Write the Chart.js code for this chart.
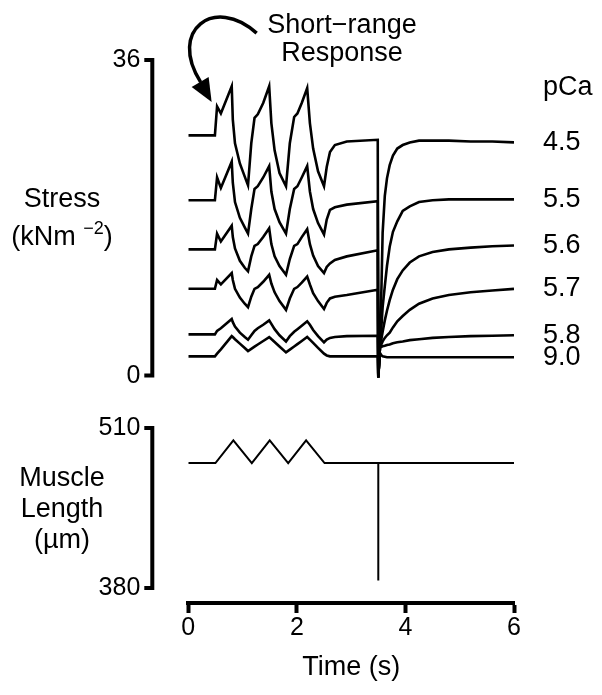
<!DOCTYPE html>
<html>
<head>
<meta charset="utf-8">
<script src="https://cdn.jsdelivr.net/npm/chart.js@4.4.1/dist/chart.umd.min.js"></script>
<style>
  body { margin: 0; background: #fff; }
  #wrap { position: relative; width: 602px; height: 695px; }
  canvas { position: absolute; left: 0; }
</style>
</head>
<body>
<div id="wrap">
  <canvas id="stress" width="602" height="400" style="top:0"></canvas>
  <canvas id="length" width="602" height="295" style="top:400px"></canvas>
</div>
<script>
var pCa = ['4.5', '5.5', '5.6', '5.7', '5.8', '9.0'];

// time (s) through the three stretch/release cycles, up to the step
var tCycle = [0, 0.49, 0.53, 0.6, 0.8, 0.82, 0.86, 0.95, 1.04, 1.1, 1.16, 1.22, 1.28, 1.38, 1.49,
    1.53, 1.59, 1.68, 1.8, 1.87, 1.95, 2.01, 2.09, 2.19, 2.24, 2.3, 2.39, 2.5, 2.55, 2.61, 2.7, 2.92, 3.49];
// time (s) from the release/restretch at 3.5 s onwards
var tRecover = [3.5, 3.53, 3.56, 3.58, 3.62, 3.66, 3.71, 3.77, 3.85, 3.95, 4.08, 4.25, 4.5, 4.8, 5.2, 5.6, 6.0];

// stress (kN m-2), one list per pCa, cycle part then recovery part
var s45 = [27.4, 27.4, 30.7, 29.9, 33.0, 29.2, 26.5, 24.2, 22.7, 21.7, 26.5, 29.4, 29.8, 31.1, 33.0,
    28.8, 25.7, 23.1, 21.6, 26.5, 29.5, 29.9, 31.1, 32.8, 28.8, 25.9, 23.3, 21.6, 23.8, 25.5, 26.3, 26.7, 26.9,
    -0.2, 3.2, 10.5, 16.3, 20.5, 22.5, 24.0, 25.1, 25.9, 26.3, 26.6, 26.8, 26.8, 26.8, 26.7, 26.7, 26.6];
var s55 = [20.0, 20.0, 22.6, 21.4, 24.4, 22.0, 19.8, 18.0, 16.9, 16.2, 19.0, 21.3, 21.6, 22.6, 23.9,
    21.0, 19.0, 17.5, 16.2, 19.0, 21.3, 21.6, 22.6, 23.9, 21.0, 19.0, 17.4, 16.1, 17.8, 18.9, 19.2, 19.5, 19.9,
    -0.2, 3.2, 5.8, 7.8, 10.2, 12.5, 14.7, 16.4, 17.6, 18.8, 19.3, 19.8, 20.0, 20.1, 20.1, 20.1, 20.1];
var s56 = [14.4, 14.4, 16.2, 15.3, 17.1, 15.8, 14.5, 13.1, 12.3, 11.9, 13.6, 14.8, 15.0, 15.8, 16.8,
    15.0, 13.6, 12.5, 11.5, 13.3, 14.8, 15.0, 15.8, 16.7, 15.0, 13.7, 12.5, 11.7, 12.4, 12.8, 13.2, 13.6, 14.3,
    -0.2, 3.2, 4.3, 5.0, 6.3, 7.4, 8.6, 9.8, 11.0, 12.0, 12.9, 13.6, 14.1, 14.4, 14.6, 14.75, 14.85];
var s57 = [9.9, 9.9, 10.9, 10.4, 11.7, 10.9, 9.9, 8.9, 8.2, 7.8, 9.0, 9.9, 10.1, 10.7, 11.5,
    10.5, 9.5, 8.5, 7.5, 8.8, 9.9, 10.1, 10.6, 11.3, 10.4, 9.4, 8.5, 7.6, 8.3, 8.8, 9.0, 9.2, 9.8,
    -0.2, 3.2, 3.6, 3.9, 4.3, 4.6, 4.9, 5.5, 6.2, 6.8, 7.5, 8.2, 8.8, 9.2, 9.5, 9.7, 9.9];
var s58 = [4.7, 4.7, 5.1, 5.4, 6.45, 6.1, 5.6, 4.9, 4.4, 4.1, 4.6, 5.1, 5.4, 5.8, 6.3,
    5.9, 5.3, 4.6, 3.9, 4.5, 5.0, 5.3, 5.7, 6.2, 5.8, 5.2, 4.5, 3.8, 4.1, 4.3, 4.4, 4.5, 4.55,
    -0.2, 3.2, 3.3, 3.35, 3.4, 3.5, 3.55, 3.7, 3.8, 3.9, 4.05, 4.15, 4.3, 4.4, 4.5, 4.55, 4.6];
var s90 = [2.2, 2.2, 2.5, 3.0, 4.5, 4.4, 4.15, 3.65, 3.15, 2.8, 3.05, 3.3, 3.55, 3.95, 4.4,
    4.17, 3.84, 3.33, 2.65, 2.96, 3.32, 3.59, 3.95, 4.4, 4.1, 3.73, 3.17, 2.5, 2.3, 2.2, 2.2, 2.2, 2.2,
    -0.2, 2.6, 2.3, 2.2, 2.15, 2.1, 2.1, 2.1, 2.1, 2.1, 2.1, 2.1, 2.1, 2.1, 2.1, 2.1, 2.1];

// muscle length (um)
var tLength = [0, 0.5, 0.83, 1.17, 1.5, 1.84, 2.17, 2.51, 3.5, 3.5, 3.5, 6];
var length = [481.5, 481.5, 500, 481.5, 500, 481.5, 500, 481.5, 481.5, 386, 481.5, 481.5];

var stressTicks = [0, 36];
var lengthTicks = [380, 510];
var timeTicks = [0, 2, 4, 6];

var FONT = '"Liberation Sans", Arial, sans-serif';
Chart.defaults.font.family = FONT;
Chart.defaults.color = '#000';

var stressSeries = [s45, s55, s56, s57, s58, s90];
var tAll = tCycle.concat(tRecover);
var axisGap = 36; // y axes sit this far left of the traces

function xy(ts, vs) {
    return ts.map(function (t, i) { return {x: t, y: vs[i]}; });
}
function setTicks(list) {
    return function (scale) {
        scale.ticks = list.map(function (v) { return {value: v}; });
    };
}

// Prism style y axis: bracket from first to last tick, off to the left
var yBracket = {
    id: 'yBracket',
    afterDraw: function (chart) {
        var ctx = chart.ctx, s = chart.scales.y;
        var x = chart.chartArea.left - axisGap;
        var px = s.ticks.map(function (t) { return s.getPixelForValue(t.value); });
        var top = Math.min.apply(null, px), bot = Math.max.apply(null, px);
        ctx.save();
        ctx.strokeStyle = '#000';
        ctx.lineWidth = 4;
        ctx.beginPath();
        ctx.moveTo(x, top - 2);
        ctx.lineTo(x, bot + 2);
        px.forEach(function (p) {
            ctx.moveTo(x + 2, p);
            ctx.lineTo(x - 8, p);
        });
        ctx.stroke();
        ctx.restore();
    }
};

// horizontal axis title, lines made of parts (for the superscript)
var sideTitle = {
    id: 'sideTitle',
    afterDraw: function (chart, args, o) {
        var ctx = chart.ctx, s = chart.scales.y;
        var mid = (s.getPixelForValue(s.ticks[0].value) + s.getPixelForValue(s.ticks[s.ticks.length - 1].value)) / 2;
        ctx.save();
        ctx.fillStyle = '#000';
        ctx.textAlign = 'left';
        ctx.textBaseline = 'alphabetic';
        o.lines.forEach(function (line) {
            var w = 0;
            line.parts.forEach(function (p) {
                ctx.font = (p.size || o.size) + 'px ' + FONT;
                w += ctx.measureText(p.text).width;
            });
            var x = o.x - w / 2;
            line.parts.forEach(function (p) {
                ctx.font = (p.size || o.size) + 'px ' + FONT;
                ctx.fillText(p.text, x, mid + line.dy - (p.rise || 0));
                x += ctx.measureText(p.text).width;
            });
        });
        ctx.restore();
    }
};

// "Short-range Response" note with its curved arrow
var callout = {
    id: 'callout',
    afterDraw: function (chart, args, o) {
        var ctx = chart.ctx;
        var tx = chart.scales.x.getPixelForValue(o.tip[0]);
        var ty = chart.scales.y.getPixelForValue(o.tip[1]);
        ctx.save();
        ctx.fillStyle = '#000';
        ctx.strokeStyle = '#000';
        ctx.font = o.size + 'px ' + FONT;
        ctx.textAlign = 'center';
        ctx.textBaseline = 'alphabetic';
        o.text.forEach(function (line, i) {
            ctx.fillText(line, o.x, o.y + i * o.lineGap);
        });
        ctx.lineWidth = 3.5;
        ctx.beginPath();
        ctx.moveTo(tx + 45, ty - 69);
        ctx.bezierCurveTo(tx + 3, ty - 107, tx - 44, ty - 72, tx - 11, ty - 20);
        ctx.stroke();
        ctx.beginPath();
        ctx.moveTo(tx, ty);
        ctx.lineTo(tx - 20, ty - 15);
        ctx.lineTo(tx - 3, ty - 25);
        ctx.closePath();
        ctx.fill();
        ctx.restore();
    }
};

window.addEventListener('load', function () {
    var rightTicks = [32.9].concat(stressSeries.map(function (s) { return s[s.length - 1]; }));
    var rightLabels = ['pCa'].concat(pCa);

    var stressChart = new Chart(document.getElementById('stress'), {
        type: 'line',
        data: {
            datasets: stressSeries.map(function (vals, i) {
                return {
                    label: 'pCa ' + pCa[i],
                    data: xy(tAll, vals),
                    borderColor: '#000',
                    borderWidth: 2.6,
                    pointRadius: 0,
                    tension: 0
                };
            })
        },
        options: {
            responsive: false,
            animation: false,
            events: [],
            layout: {padding: {top: 60, bottom: 20, left: 0, right: 0}},
            plugins: {
                legend: {display: false},
                tooltip: {enabled: false},
                sideTitle: {
                    x: 62, size: 27,
                    lines: [
                        {dy: -11, parts: [{text: 'Stress'}]},
                        {dy: 27, parts: [{text: '(kNm '}, {text: '\u22122', size: 18, rise: 11}, {text: ')'}]}
                    ]
                },
                callout: {
                    tip: [0.43, 31.2],
                    text: ['Short\u2212range', 'Response'],
                    x: 342, y: 33, lineGap: 28, size: 27
                }
            },
            scales: {
                x: {type: 'linear', min: 0, max: 6, display: false},
                y: {
                    min: -0.5, max: 36,
                    afterBuildTicks: setTicks(stressTicks),
                    afterFit: function (s) { s.width = 188.3; },
                    grid: {display: false, drawTicks: true, tickLength: 48},
                    border: {display: false},
                    ticks: {padding: 0, font: {size: 25}}
                },
                yR: {
                    position: 'right',
                    min: -0.5, max: 36,
                    afterBuildTicks: setTicks(rightTicks),
                    afterFit: function (s) { s.width = 88; },
                    grid: {display: false, drawTicks: true, tickLength: 29},
                    border: {display: false},
                    ticks: {
                        padding: 0, autoSkip: false, font: {size: 27},
                        callback: function (v, i) { return rightLabels[i]; }
                    }
                }
            }
        },
        plugins: [yBracket, sideTitle, callout]
    });

    var lengthChart = new Chart(document.getElementById('length'), {
        type: 'line',
        data: {
            datasets: [{
                label: 'Muscle length',
                data: xy(tLength, length),
                borderColor: '#000',
                borderWidth: 2,
                pointRadius: 0,
                tension: 0
            }]
        },
        options: {
            responsive: false,
            animation: false,
            events: [],
            layout: {padding: {top: 28, bottom: 0, left: 0, right: 88}},
            plugins: {
                legend: {display: false},
                tooltip: {enabled: false},
                sideTitle: {
                    x: 62, size: 27,
                    lines: [
                        {dy: -22, parts: [{text: 'Muscle'}]},
                        {dy: 9, parts: [{text: 'Length'}]},
                        {dy: 40, parts: [{text: '(\u00b5m)'}]}
                    ]
                }
            },
            scales: {
                x: {
                    type: 'linear', min: 0, max: 6,
                    afterBuildTicks: setTicks(timeTicks),
                    afterFit: function (s) { s.height = 92.5; },
                    grid: {drawOnChartArea: false, drawTicks: true, tickLength: 10.5, tickWidth: 4, tickColor: '#000'},
                    border: {display: true, width: 4, color: '#000'},
                    ticks: {padding: 0, maxRotation: 0, font: {size: 25}},
                    title: {display: true, text: 'Time (s)', font: {size: 27}, padding: {top: 0, bottom: 11}}
                },
                y: {
                    min: 368.2, max: 510,
                    afterBuildTicks: setTicks(lengthTicks),
                    afterFit: function (s) { s.width = 188.3; },
                    grid: {display: false, drawTicks: true, tickLength: 48},
                    border: {display: false},
                    ticks: {padding: 0, font: {size: 25}}
                }
            }
        },
        plugins: [yBracket, sideTitle]
    });
});
</script>
</body>
</html>
